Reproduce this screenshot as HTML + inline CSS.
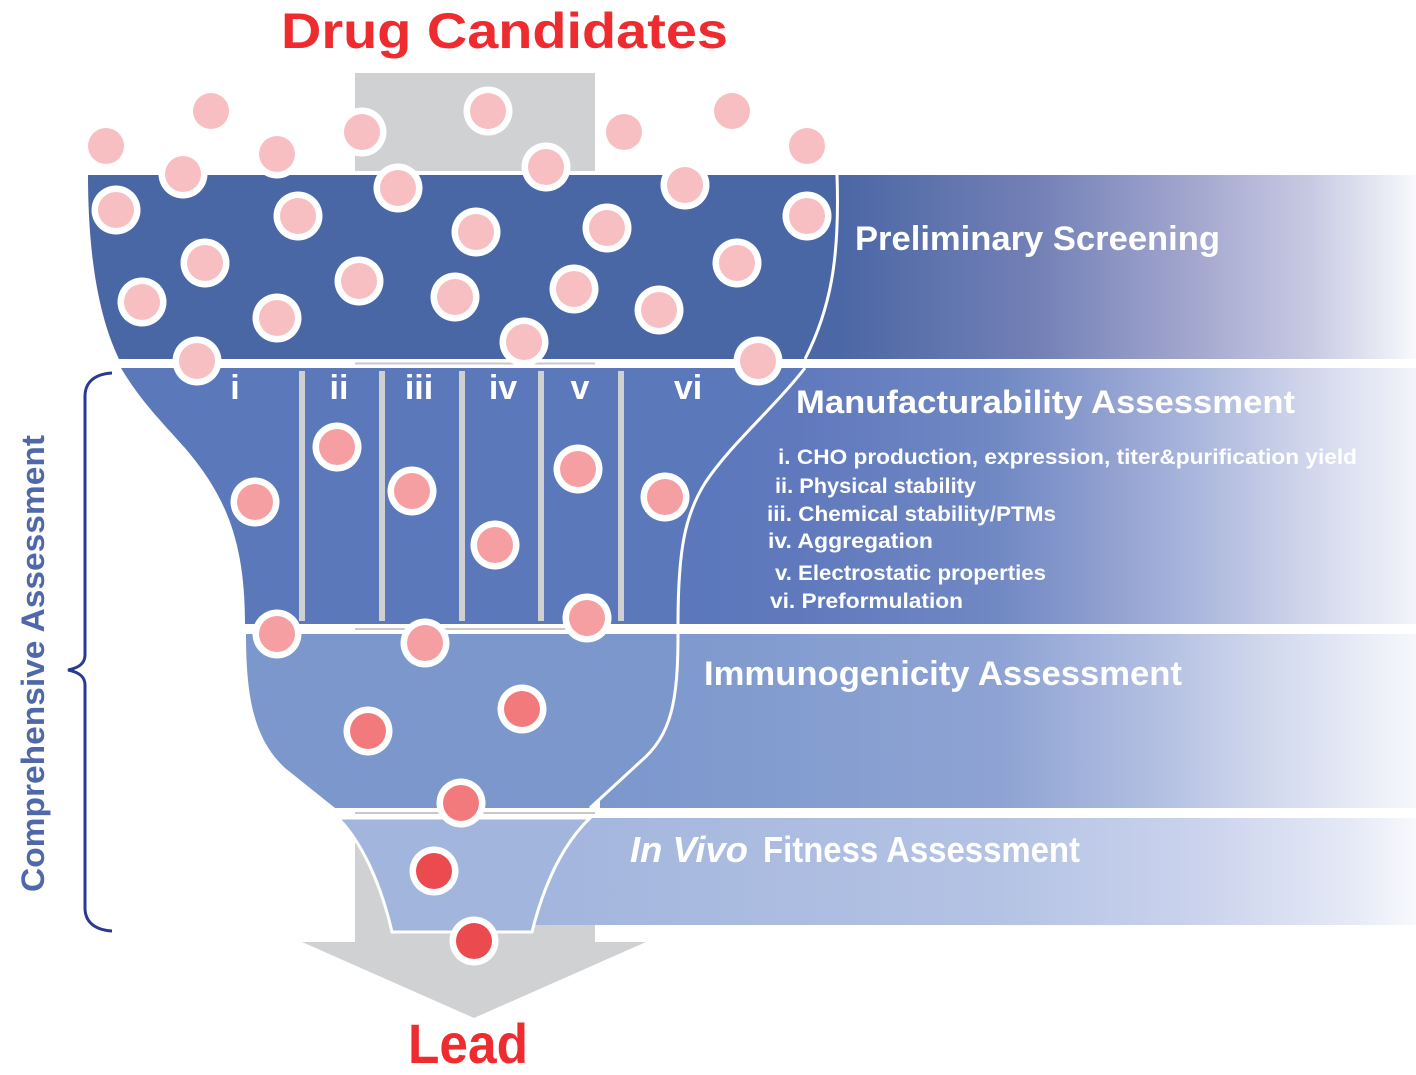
<!DOCTYPE html>
<html><head><meta charset="utf-8"><style>
html,body{margin:0;padding:0;background:#fff;}
svg{display:block;}
text{font-family:"Liberation Sans",sans-serif;font-weight:bold;}
</style></head><body>
<svg width="1416" height="1075" viewBox="0 0 1416 1075" xmlns="http://www.w3.org/2000/svg">
<defs>
<linearGradient id="g1" gradientUnits="userSpaceOnUse" x1="840" y1="0" x2="1416" y2="0">
<stop offset="0" stop-color="#4b67a5"/><stop offset="0.34" stop-color="#7380b6"/><stop offset="0.62" stop-color="#a4a8cf"/><stop offset="0.82" stop-color="#c8cae3"/><stop offset="0.96" stop-color="#eceef7"/><stop offset="1" stop-color="#fafafd"/>
</linearGradient>
<linearGradient id="g2" gradientUnits="userSpaceOnUse" x1="680" y1="0" x2="1416" y2="0">
<stop offset="0" stop-color="#5b78bb"/><stop offset="0.16" stop-color="#6079bd"/><stop offset="0.43" stop-color="#7088c3"/><stop offset="0.57" stop-color="#8e9ecf"/><stop offset="0.7" stop-color="#aab6dc"/><stop offset="0.84" stop-color="#cdd3ea"/><stop offset="0.98" stop-color="#eef0f8"/><stop offset="1" stop-color="#f4f5fa"/>
</linearGradient>
<linearGradient id="g3" gradientUnits="userSpaceOnUse" x1="600" y1="0" x2="1416" y2="0">
<stop offset="0" stop-color="#7b97cc"/><stop offset="0.49" stop-color="#8ea3d3"/><stop offset="0.67" stop-color="#b0bde1"/><stop offset="0.8" stop-color="#cdd5ec"/><stop offset="0.98" stop-color="#f2f4fa"/><stop offset="1" stop-color="#f6f7fb"/>
</linearGradient>
<linearGradient id="g4" gradientUnits="userSpaceOnUse" x1="530" y1="0" x2="1416" y2="0">
<stop offset="0" stop-color="#a2b5dd"/><stop offset="0.53" stop-color="#b4c3e4"/><stop offset="0.76" stop-color="#cbd3ed"/><stop offset="0.93" stop-color="#e6eaf6"/><stop offset="1" stop-color="#f8f9fd"/>
</linearGradient>
</defs>

<!-- gray arrow -->
<rect x="355" y="73" width="240" height="98" fill="#d0d1d3"/>
<rect x="355" y="842" width="240" height="101" fill="#d0d1d3"/>
<polygon points="302,942 646,942 474,1018" fill="#d0d1d3"/>

<!-- bands -->
<rect x="600" y="175" width="816" height="184" fill="url(#g1)"/>
<rect x="660" y="368" width="756" height="256" fill="url(#g2)"/>
<rect x="600" y="634" width="816" height="174" fill="url(#g3)"/>
<rect x="530" y="818" width="886" height="107" fill="url(#g4)"/>

<!-- funnel band 1 -->
<path d="M88,175 L837,175 C840,260 830,310 805,359 L119,359 C100,320 88,260 88,175 Z" fill="#4a67a5"/>
<path d="M837,175 C840,260 830,310 805,359" fill="none" stroke="#fff" stroke-width="3"/>

<!-- funnel band 2 -->
<path d="M121,368 L805,368 C772,410 730,445 705,483 C685,515 678,550 678,624 L245,624 C245,540 225,495 185,448 C160,420 140,400 121,368 Z" fill="#5b78bb"/>
<path d="M805,368 C772,410 730,445 705,483 C685,515 678,550 678,624" fill="none" stroke="#fff" stroke-width="3"/>
<g fill="#d0d0d0">
<rect x="299" y="371" width="6" height="250"/>
<rect x="379" y="371" width="6" height="250"/>
<rect x="459" y="371" width="6" height="250"/>
<rect x="538" y="371" width="6" height="250"/>
<rect x="618" y="371" width="6" height="250"/>
</g>

<!-- funnel band 3 -->
<path d="M246,634 L678,634 C678,700 672,735 640,762 L590,808 L335,808 L285,768 C255,740 246,700 246,634 Z" fill="#7b97cc"/>
<path d="M678,634 C678,700 672,735 640,762 L590,808" fill="none" stroke="#fff" stroke-width="3"/>

<!-- funnel band 4 -->
<path d="M338,818 L590,818 C565,842 545,880 532,932 L392,932 C380,880 360,840 338,818 Z" fill="#a1b5dd" stroke="#fff" stroke-width="3"/>

<!-- gray lines in gaps -->
<g stroke="#c9c9c9" stroke-width="2">
<line x1="355" y1="363.5" x2="595" y2="363.5"/>
<line x1="355" y1="629" x2="595" y2="629"/>
<line x1="355" y1="813" x2="595" y2="813"/>
</g>

<!-- circles -->
<g fill="#fff">
<circle cx="106" cy="146" r="24.5"/><circle cx="211" cy="111" r="24.5"/><circle cx="277" cy="154" r="24.5"/><circle cx="183" cy="174" r="24.5"/><circle cx="362" cy="132" r="24.5"/><circle cx="398" cy="188" r="24.5"/><circle cx="488" cy="111" r="24.5"/><circle cx="546" cy="167" r="24.5"/><circle cx="624" cy="132" r="24.5"/><circle cx="732" cy="111" r="24.5"/><circle cx="807" cy="146" r="24.5"/><circle cx="685" cy="185" r="24.5"/>
<circle cx="116" cy="210" r="24.5"/><circle cx="298" cy="216" r="24.5"/><circle cx="205" cy="263" r="24.5"/><circle cx="359" cy="281" r="24.5"/><circle cx="142" cy="302" r="24.5"/><circle cx="277" cy="318" r="24.5"/><circle cx="197" cy="361" r="24.5"/><circle cx="455" cy="297" r="24.5"/><circle cx="476" cy="232" r="24.5"/><circle cx="607" cy="228" r="24.5"/><circle cx="807" cy="216" r="24.5"/><circle cx="737" cy="263" r="24.5"/><circle cx="574" cy="289" r="24.5"/><circle cx="659" cy="310" r="24.5"/><circle cx="524" cy="342" r="24.5"/><circle cx="758" cy="361" r="24.5"/>
<circle cx="255" cy="502" r="24.5"/><circle cx="337" cy="447" r="24.5"/><circle cx="412" cy="491" r="24.5"/><circle cx="495" cy="545" r="24.5"/><circle cx="578" cy="469" r="24.5"/><circle cx="665" cy="497" r="24.5"/><circle cx="277" cy="634" r="24.5"/><circle cx="425" cy="643" r="24.5"/><circle cx="587" cy="618" r="24.5"/>
<circle cx="368" cy="731" r="24.5"/><circle cx="522" cy="709" r="24.5"/><circle cx="461" cy="803" r="24.5"/>
<circle cx="434" cy="871" r="24.5"/><circle cx="474" cy="941" r="24.5"/>
</g>
<g fill="#f8bfc2">
<circle cx="106" cy="146" r="18"/><circle cx="211" cy="111" r="18"/><circle cx="277" cy="154" r="18"/><circle cx="183" cy="174" r="18"/><circle cx="362" cy="132" r="18"/><circle cx="398" cy="188" r="18"/><circle cx="488" cy="111" r="18"/><circle cx="546" cy="167" r="18"/><circle cx="624" cy="132" r="18"/><circle cx="732" cy="111" r="18"/><circle cx="807" cy="146" r="18"/><circle cx="685" cy="185" r="18"/>
<circle cx="116" cy="210" r="18"/><circle cx="298" cy="216" r="18"/><circle cx="205" cy="263" r="18"/><circle cx="359" cy="281" r="18"/><circle cx="142" cy="302" r="18"/><circle cx="277" cy="318" r="18"/><circle cx="197" cy="361" r="18"/><circle cx="455" cy="297" r="18"/><circle cx="476" cy="232" r="18"/><circle cx="607" cy="228" r="18"/><circle cx="807" cy="216" r="18"/><circle cx="737" cy="263" r="18"/><circle cx="574" cy="289" r="18"/><circle cx="659" cy="310" r="18"/><circle cx="524" cy="342" r="18"/><circle cx="758" cy="361" r="18"/>
</g>
<g fill="#f69fa3">
<circle cx="255" cy="502" r="18"/><circle cx="337" cy="447" r="18"/><circle cx="412" cy="491" r="18"/><circle cx="495" cy="545" r="18"/><circle cx="578" cy="469" r="18"/><circle cx="665" cy="497" r="18"/><circle cx="277" cy="634" r="18"/><circle cx="425" cy="643" r="18"/><circle cx="587" cy="618" r="18"/>
</g>
<g fill="#f27a7d">
<circle cx="368" cy="731" r="18"/><circle cx="522" cy="709" r="18"/><circle cx="461" cy="803" r="18"/>
</g>
<g fill="#eb4a4f">
<circle cx="434" cy="871" r="18"/><circle cx="474" cy="941" r="18"/>
</g>

<!-- brace -->
<path d="M112,373 C95,374 85,382 85,396 L85,655 C85,664 78,668 68,670 C78,672 85,676 85,685 L85,908 C85,922 95,930 112,931" fill="none" stroke="#2b3990" stroke-width="3"/>

<!-- texts -->
<text x="281" y="48" font-size="50" fill="#ee2b2f" textLength="447" lengthAdjust="spacingAndGlyphs">Drug Candidates</text>
<text x="408" y="1063" font-size="56" fill="#ee2b2f" textLength="120" lengthAdjust="spacingAndGlyphs">Lead</text>

<g fill="#fff" font-size="34" text-anchor="middle">
<text x="235" y="399">i</text>
<text x="339" y="399">ii</text>
<text x="419" y="399">iii</text>
<text x="503" y="399">iv</text>
<text x="580" y="399">v</text>
<text x="688" y="399">vi</text>
</g>

<text x="855" y="250" font-size="34" fill="#fff" textLength="365" lengthAdjust="spacingAndGlyphs">Preliminary Screening</text>
<text x="796" y="413" font-size="32" fill="#fff" textLength="499" lengthAdjust="spacingAndGlyphs">Manufacturability Assessment</text>
<g fill="#fff" font-size="21">
<text x="778" y="464" textLength="579" lengthAdjust="spacingAndGlyphs">i. CHO production, expression, titer&amp;purification yield</text>
<text x="775" y="493" textLength="201" lengthAdjust="spacingAndGlyphs">ii. Physical stability</text>
<text x="767" y="521" textLength="289" lengthAdjust="spacingAndGlyphs">iii. Chemical stability/PTMs</text>
<text x="768" y="548" textLength="165" lengthAdjust="spacingAndGlyphs">iv. Aggregation</text>
<text x="775" y="580" textLength="271" lengthAdjust="spacingAndGlyphs">v. Electrostatic properties</text>
<text x="770" y="608" textLength="193" lengthAdjust="spacingAndGlyphs">vi. Preformulation</text>
</g>
<text x="704" y="685" font-size="34" fill="#fff" textLength="478" lengthAdjust="spacingAndGlyphs">Immunogenicity Assessment</text>
<text x="630" y="862" font-size="36" fill="#fff" font-style="italic" textLength="118" lengthAdjust="spacingAndGlyphs">In Vivo</text>
<text x="763" y="862" font-size="36" fill="#fff" textLength="317" lengthAdjust="spacingAndGlyphs">Fitness Assessment</text>

<text transform="translate(44,892) rotate(-90)" font-size="32" fill="#4f68aa" textLength="457" lengthAdjust="spacingAndGlyphs">Comprehensive Assessment</text>
</svg>
</body></html>
